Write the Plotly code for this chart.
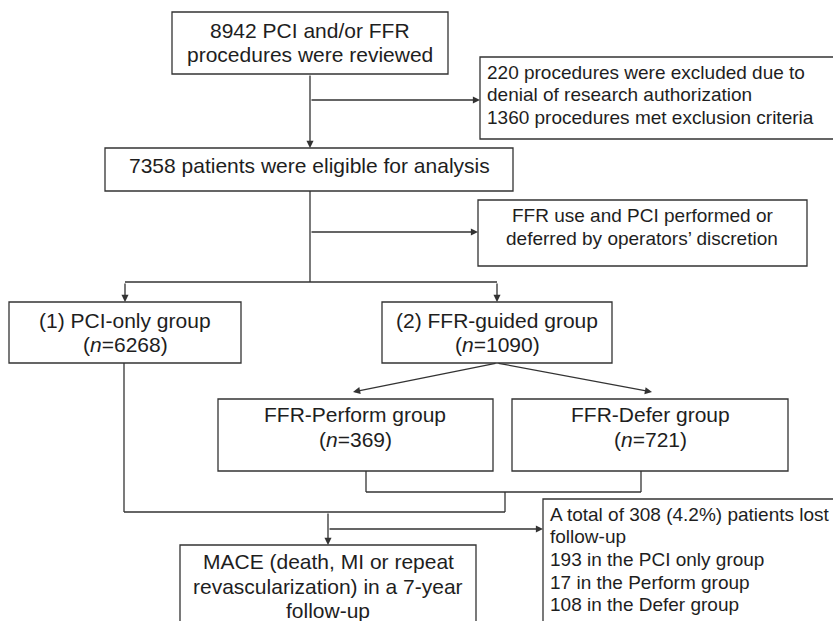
import plotly.graph_objects as go

# ---------------- data (texts / counts) ----------------
screened_text = ["8942 PCI and/or FFR", "procedures were reviewed"]
excluded_text = ["220 procedures were excluded due to",
                 "denial of research authorization",
                 "1360 procedures met exclusion criteria"]
eligible_text = ["7358 patients were eligible for analysis"]
allocation_text = ["FFR use and PCI performed or",
                   "deferred by operators\u2019 discretion"]
group_names = ["(1) PCI-only group", "(2) FFR-guided group"]
group_n = [6268, 1090]
subgroup_names = ["FFR-Perform group", "FFR-Defer group"]
subgroup_n = [369, 721]
outcome_text = ["MACE (death, MI or repeat",
                "revascularization) in a 7-year",
                "follow-up"]
lost_text = ["A total of 308 (4.2%) patients lost",
             "follow-up",
             "193 in the PCI only group",
             "17 in the Perform group",
             "108 in the Defer group"]

# ---------------- layout geometry (pixels, y downward) ----------------
W, H = 833, 621
LINE = "#333333"
TXT = "#1e1e1e"
FONT = "Arial, Liberation Sans, sans-serif"
BIG, SMALL = 21, 19

boxes = {
    "screened":   (172, 12, 448, 74),
    "excluded":   (480, 57, 845, 139),
    "eligible":   (105, 148, 513, 191),
    "allocation": (478, 200, 807, 266),
    "g1":         (9, 302, 241, 363),
    "g2":         (382, 302, 612, 363),
    "s1":         (218, 399, 493, 471),
    "s2":         (512, 399, 788, 471),
    "outcome":    (180, 545, 476, 640),
    "lost":       (543, 499, 845, 640),
}

fig = go.Figure()
shapes = []
annotations = []

for (x0, y0, x1, y1) in boxes.values():
    shapes.append(dict(type="rect", xref="x", yref="y", x0=x0, y0=y0, x1=x1, y1=y1,
                       line=dict(color=LINE, width=1.3), fillcolor="white", layer="below"))

def seg(x0, y0, x1, y1):
    shapes.append(dict(type="line", xref="x", yref="y", x0=x0, y0=y0, x1=x1, y1=y1,
                       line=dict(color=LINE, width=1.3)))

def arrow(x0, y0, x1, y1):
    annotations.append(dict(x=x1, y=y1, ax=x0, ay=y0, xref="x", yref="y",
                            axref="x", ayref="y", text="", showarrow=True,
                            arrowhead=2, arrowsize=1.1, arrowwidth=1.3,
                            arrowcolor=LINE, standoff=0, startstandoff=0))

def text_lines(lines, x, baselines, size, align="center"):
    off = 0.3465 * size
    for t, b in zip(lines, baselines):
        annotations.append(dict(x=x, y=b - off, xref="x", yref="y", text=t,
                                showarrow=False, xanchor="center" if align == "center" else "left",
                                yanchor="middle",
                                font=dict(family=FONT, size=size, color=TXT)))

# connectors
arrow(310, 74, 310, 148)
arrow(310, 100, 480, 100)
seg(310, 191, 310, 282)
arrow(310, 232, 478, 232)
seg(125, 282, 497, 282)
arrow(125, 282, 125, 302)
arrow(497, 282, 497, 302)
arrow(497, 363, 353, 392)
arrow(497, 363, 652, 392)
seg(366, 471, 366, 492)
seg(366, 492, 641, 492)
seg(641, 492, 641, 471)
seg(505, 492, 505, 512)
seg(124, 363, 124, 512)
seg(124, 512, 505, 512)
arrow(328, 512, 328, 545)
arrow(328, 529, 543, 529)

# texts
text_lines(screened_text, 310, [37.5, 62], BIG)
text_lines(excluded_text, 485, [79, 101.5, 124], SMALL, align="left")
text_lines(eligible_text, 309, [172.5], BIG)
text_lines(allocation_text, 642, [222.5, 245], SMALL)
for name, n, cx in zip(group_names, group_n, [125, 497]):
    text_lines([name, f"(<i>n</i>={n})"], cx, [327.5, 352], BIG)
for name, n, cx in zip(subgroup_names, subgroup_n, [355, 650]):
    text_lines([name, f"(<i>n</i>={n})"], cx, [421.5, 447], BIG)
text_lines(outcome_text, 328, [568.5, 593.5, 618], BIG)
text_lines(lost_text, 548, [521.5, 543.5, 566.5, 589, 611.5], SMALL, align="left")

fig.update_layout(
    width=W, height=H, margin=dict(l=0, r=0, t=0, b=0),
    paper_bgcolor="white", plot_bgcolor="white",
    xaxis=dict(range=[0, W], visible=False, fixedrange=True),
    yaxis=dict(range=[H, 0], visible=False, fixedrange=True),
    shapes=shapes, annotations=annotations, showlegend=False,
)

fig.write_html("out.html", config={"displayModeBar": False},
               post_script="document.body.style.margin='0';document.body.style.overflow='hidden';")
